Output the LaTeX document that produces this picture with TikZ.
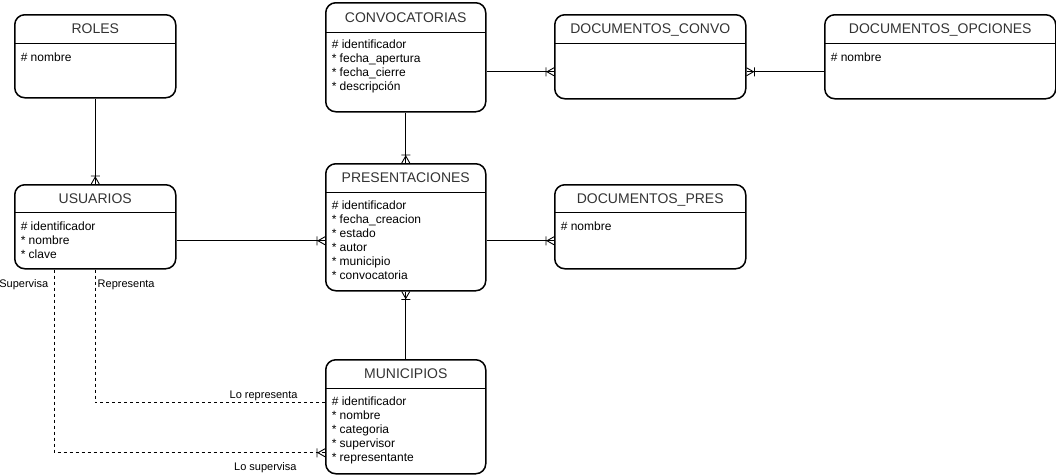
\documentclass[tikz,border=0pt]{standalone}
\usepackage{fontspec}
\setsansfont{Liberation Sans}
\usetikzlibrary{positioning}

% one-or-many end: bar plus crow's foot
\pgfdeclarearrow{
  name = CrowFoot,
  setup code = {
    \pgfarrowssettipend{0pt}
    \pgfarrowssetlineend{0pt}
    \pgfarrowssetbackend{-9pt}
    \pgfarrowssetvisualbackend{-9pt}
    \pgfarrowshullpoint{0pt}{4.5pt}
    \pgfarrowshullpoint{0pt}{-4.5pt}
    \pgfarrowshullpoint{-9pt}{0pt}
  },
  drawing code = {
    \pgfsetdash{}{0pt}
    \pgfpathmoveto{\pgfpoint{-7pt}{0pt}}
    \pgfpathlineto{\pgfpoint{0pt}{4pt}}
    \pgfpathmoveto{\pgfpoint{-7pt}{0pt}}
    \pgfpathlineto{\pgfpoint{0pt}{-4pt}}
    \pgfpathmoveto{\pgfpoint{-8pt}{4.5pt}}
    \pgfpathlineto{\pgfpoint{-8pt}{-4.5pt}}
    \pgfusepathqstroke
  },
  defaults = {}
}

\begin{document}
\begin{tikzpicture}[x=1pt,y=-1pt,>=CrowFoot,
  entity/.style={draw,line width=1.5pt,rounded corners=10pt,anchor=north west,inner sep=0pt},
  head/.style={anchor=north,inner sep=0pt,text height=10pt,text depth=0pt,
    font=\sffamily\fontsize{14}{16}\selectfont,text=black!80},
  attrs/.style={inner sep=0pt,align=left,font=\sffamily\fontsize{12}{14}\selectfont},
  sepline/.style={line width=1.5pt},
  rel/.style={draw,line width=0.9pt},
  reldash/.style={rel,dash pattern=on 3pt off 3pt},
  reltext/.style={inner sep=0pt,font=\sffamily\fontsize{11}{13}\selectfont}]

  \useasboundingbox (0,0) rectangle (1056,475);

  % entities
  \node[entity,minimum width=161pt,minimum height=83pt] (roles) at (14,14) {};
  \node[head,minimum width=161pt,minimum height=29pt] (roles-h) at (roles.north) {ROLES};
  \draw[sepline] (roles-h.south west) -- (roles-h.south east);
  \node[attrs] (roles-a) [below right=9pt and 6pt of roles-h.south west] {\# nombre};

  \node[entity,minimum width=160pt,minimum height=109pt] (conv) at (325,2) {};
  \node[head,minimum width=160pt,minimum height=30pt] (conv-h) at (conv.north) {CONVOCATORIAS};
  \draw[sepline] (conv-h.south west) -- (conv-h.south east);
  \node[attrs] (conv-a) [below right=7pt and 6pt of conv-h.south west]
    {\# identificador\\* fecha\_apertura\\* fecha\_cierre\\* descripción};

  \node[entity,minimum width=191pt,minimum height=84pt] (doccon) at (554,14) {};
  \node[head,minimum width=191pt,minimum height=29pt] (doccon-h) at (doccon.north) {DOCUMENTOS\_CONVO};
  \draw[sepline] (doccon-h.south west) -- (doccon-h.south east);

  \node[entity,minimum width=231pt,minimum height=84pt] (docop) at (824,14) {};
  \node[head,minimum width=231pt,minimum height=29pt] (docop-h) at (docop.north) {DOCUMENTOS\_OPCIONES};
  \draw[sepline] (docop-h.south west) -- (docop-h.south east);
  \node[attrs] (docop-a) [below right=9pt and 6pt of docop-h.south west] {\# nombre};

  \node[entity,minimum width=161pt,minimum height=84pt] (usuarios) at (14,184) {};
  \node[head,minimum width=161pt,minimum height=28pt] (usuarios-h) at (usuarios.north) {USUARIOS};
  \draw[sepline] (usuarios-h.south west) -- (usuarios-h.south east);
  \node[attrs] (usuarios-a) [below right=9pt and 6pt of usuarios-h.south west]
    {\# identificador\\* nombre\\* clave};

  \node[entity,minimum width=160pt,minimum height=127pt] (pres) at (325,163) {};
  \node[head,minimum width=160pt,minimum height=29pt] (pres-h) at (pres.north) {PRESENTACIONES};
  \draw[sepline] (pres-h.south west) -- (pres-h.south east);
  \node[attrs] (pres-a) [below right=8pt and 6pt of pres-h.south west]
    {\# identificador\\* fecha\_creacion\\* estado\\* autor\\* municipio\\* convocatoria};

  \node[entity,minimum width=191pt,minimum height=84pt] (docpres) at (554,184) {};
  \node[head,minimum width=191pt,minimum height=28pt] (docpres-h) at (docpres.north) {DOCUMENTOS\_PRES};
  \draw[sepline] (docpres-h.south west) -- (docpres-h.south east);
  \node[attrs] (docpres-a) [below right=9pt and 6pt of docpres-h.south west] {\# nombre};

  \node[entity,minimum width=160pt,minimum height=114pt] (muni) at (325,359) {};
  \node[head,minimum width=160pt,minimum height=29pt] (muni-h) at (muni.north) {MUNICIPIOS};
  \draw[sepline] (muni-h.south west) -- (muni-h.south east);
  \node[attrs] (muni-a) [below right=8pt and 6pt of muni-h.south west]
    {\# identificador\\* nombre\\* categoria\\* supervisor\\* representante};

  % relations
  \draw[rel,->] (roles) -- (usuarios);
  \draw[rel,->] (conv) -- (pres);
  \draw[rel,->] (muni) -- (pres);
  \draw[rel,->] ([yshift=-14.5pt]conv.east) -- ([yshift=-15pt]doccon.west);
  \draw[rel,->] ([yshift=-15pt]docop.west) -- ([yshift=-15pt]doccon.east);
  \draw[rel,->] ([yshift=-14pt]usuarios.east) -- ([yshift=-13.5pt]pres.west);
  \draw[rel,->] ([yshift=-13.5pt]pres.east) -- ([yshift=-14pt]docpres.west);

  \draw[reldash] (usuarios.south) |- ([yshift=14pt]muni.west)
    node[reltext,pos=0,anchor=west,xshift=2pt,yshift=-15pt] {Representa}
    node[reltext,pos=1,anchor=base east,xshift=-27pt,yshift=4pt] {Lo representa};
  \draw[reldash,->] ([xshift=-40.5pt]usuarios.south) |- ([yshift=-36pt]muni.west)
    node[reltext,pos=0,anchor=east,xshift=-6pt,yshift=-15pt] {Supervisa}
    node[reltext,pos=1,anchor=base east,xshift=-28pt,yshift=-18pt] {Lo supervisa};
\end{tikzpicture}
\end{document}
